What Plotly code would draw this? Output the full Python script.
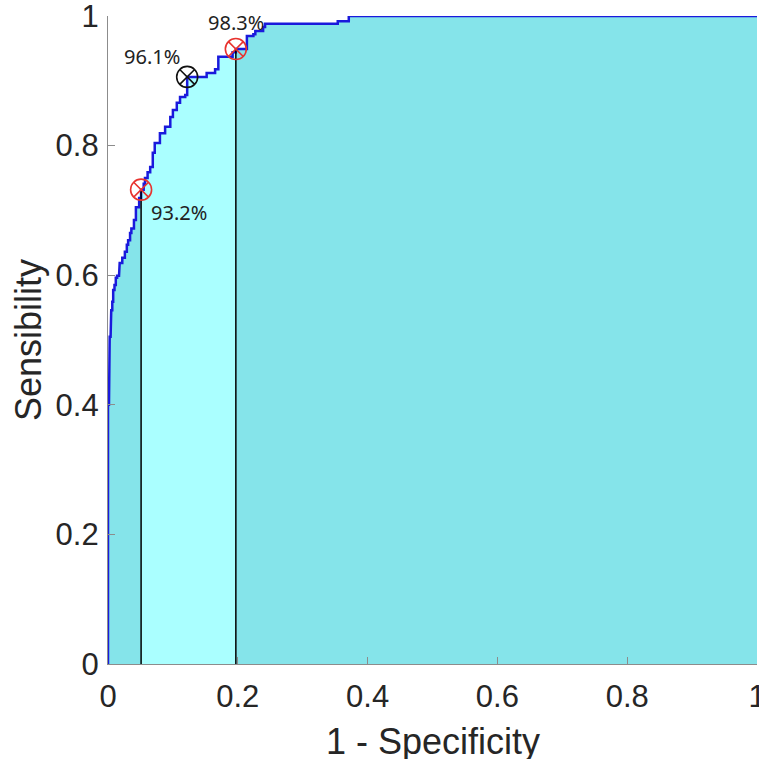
import numpy as np
import plotly.graph_objects as go

# ROC step points (1 - specificity, sensibility)
fpr = [0.0, 0.0, 0.0015, 0.0026, 0.004, 0.005, 0.0066, 0.008, 0.010, 0.012, 0.014,
       0.017, 0.018, 0.022, 0.026, 0.029, 0.031, 0.034, 0.036, 0.040, 0.043, 0.048,
       0.051, 0.055, 0.057, 0.061, 0.065, 0.069, 0.072, 0.080, 0.088, 0.096, 0.100,
       0.106, 0.111, 0.119, 0.122, 0.122, 0.152, 0.165, 0.170, 0.192, 0.197, 0.214,
       0.214, 0.224, 0.227, 0.239, 0.242, 0.354, 0.371, 1.0]
tpr = [0.0, 0.40, 0.477, 0.505, 0.52, 0.546, 0.559, 0.577, 0.585, 0.596, 0.599,
       0.608, 0.619, 0.627, 0.636, 0.647, 0.654, 0.665, 0.672, 0.685, 0.705, 0.719,
       0.732, 0.741, 0.750, 0.759, 0.767, 0.789, 0.804, 0.819, 0.829, 0.844, 0.855,
       0.866, 0.875, 0.878, 0.897, 0.906, 0.912, 0.918, 0.937, 0.944, 0.949, 0.958,
       0.969, 0.972, 0.977, 0.983, 0.988, 0.992, 1.0, 1.0]

# Cut-off points
cut_fpr = [0.051, 0.122, 0.197]
cut_tpr = [0.732, 0.906, 0.949]
cut_labels = ["93.2%", "96.1%", "98.3%"]
cut_colors = ["#e8332f", "#111111", "#e8332f"]

tick_vals = [0, 0.2, 0.4, 0.6, 0.8, 1]
tick_text = ["0", "0.2", "0.4", "0.6", "0.8", "1"]

x_title = "1 - Specificity"
y_title = "Sensibility"

DARK = "#85e4ea"
LIGHT = "#aaffff"


def staircase(x, y):
    xs, ys = [x[0]], [y[0]]
    for i in range(1, len(x)):
        xs += [x[i], x[i]]
        ys += [y[i - 1], y[i]]
    return np.array(xs), np.array(ys)


sx, sy = staircase(fpr, tpr)


def step_val(x0):
    fa, ta = np.array(fpr), np.array(tpr)
    idx = np.where(fa <= x0 + 1e-12)[0][-1]
    return ta[idx]


a, b = cut_fpr[0], cut_fpr[2]
mask = (sx > a) & (sx < b)
lx = np.concatenate([[a], sx[mask], [b]])
ly = np.concatenate([[step_val(a)], sy[mask], [cut_tpr[2]]])

fig = go.Figure()
fig.add_trace(go.Scatter(x=sx, y=sy, mode="lines", line=dict(width=0, color=DARK),
                         fill="tozeroy", fillcolor=DARK, hoverinfo="skip", showlegend=False))
fig.add_trace(go.Scatter(x=lx, y=ly, mode="lines", line=dict(width=0, color=LIGHT),
                         fill="tozeroy", fillcolor=LIGHT, hoverinfo="skip", showlegend=False))
fig.add_trace(go.Scatter(x=sx, y=sy, mode="lines", line=dict(width=2.5, color="#1a1adc"),
                         showlegend=False, cliponaxis=False))
for i in (0, 2):
    fig.add_trace(go.Scatter(x=[cut_fpr[i], cut_fpr[i]], y=[0, cut_tpr[i]], mode="lines",
                             line=dict(width=1.5, color="black"), showlegend=False))
fig.add_trace(go.Scatter(x=cut_fpr, y=cut_tpr, mode="markers",
                         marker=dict(symbol="circle-x-open", size=21, color=cut_colors,
                                     line=dict(width=1.6, color=cut_colors)),
                         showlegend=False))

ann_pos = [dict(xanchor="left", yanchor="middle", xshift=8, yshift=-23),
           dict(xanchor="right", yanchor="middle", xshift=-5, yshift=20),
           dict(xanchor="center", yanchor="bottom", xshift=0, yshift=11)]
for i in range(3):
    fig.add_annotation(x=cut_fpr[i], y=cut_tpr[i], text=cut_labels[i], showarrow=False,
                       font=dict(family="Noto Sans", size=20, color="#222222"), **ann_pos[i])

# x-axis title placed as paper annotation for exact vertical placement
fig.add_annotation(x=0.5, y=0, xref="paper", yref="paper", text=x_title, showarrow=False,
                   xanchor="center", yanchor="middle", yshift=-77,
                   font=dict(family="Liberation Sans", size=36, color="#262626"))

axis_common = dict(range=[0, 1], tickvals=tick_vals, ticktext=tick_text, ticks="inside",
                   ticklen=7, tickcolor="#8c8c8c", showline=True, linecolor="#8c8c8c",
                   linewidth=1.2, showgrid=False, zeroline=False, mirror=False,
                   automargin=False, ticklabeloverflow="allow",
                   tickfont=dict(family="Liberation Sans", size=31, color="#262626"))
fig.update_layout(
    width=759, height=759,
    margin=dict(l=108, r=2, t=16, b=95),
    paper_bgcolor="white", plot_bgcolor="white",
    xaxis=dict(**axis_common, ticklabelstandoff=5),
    yaxis=dict(**axis_common, ticklabelstandoff=2,
               title=dict(text=y_title, standoff=2,
                          font=dict(family="Liberation Sans", size=36, color="#262626"))),
)
fig.write_html("out.html", config={"displayModeBar": False},
               post_script="document.body.style.margin='0';document.body.style.overflow='hidden';")
